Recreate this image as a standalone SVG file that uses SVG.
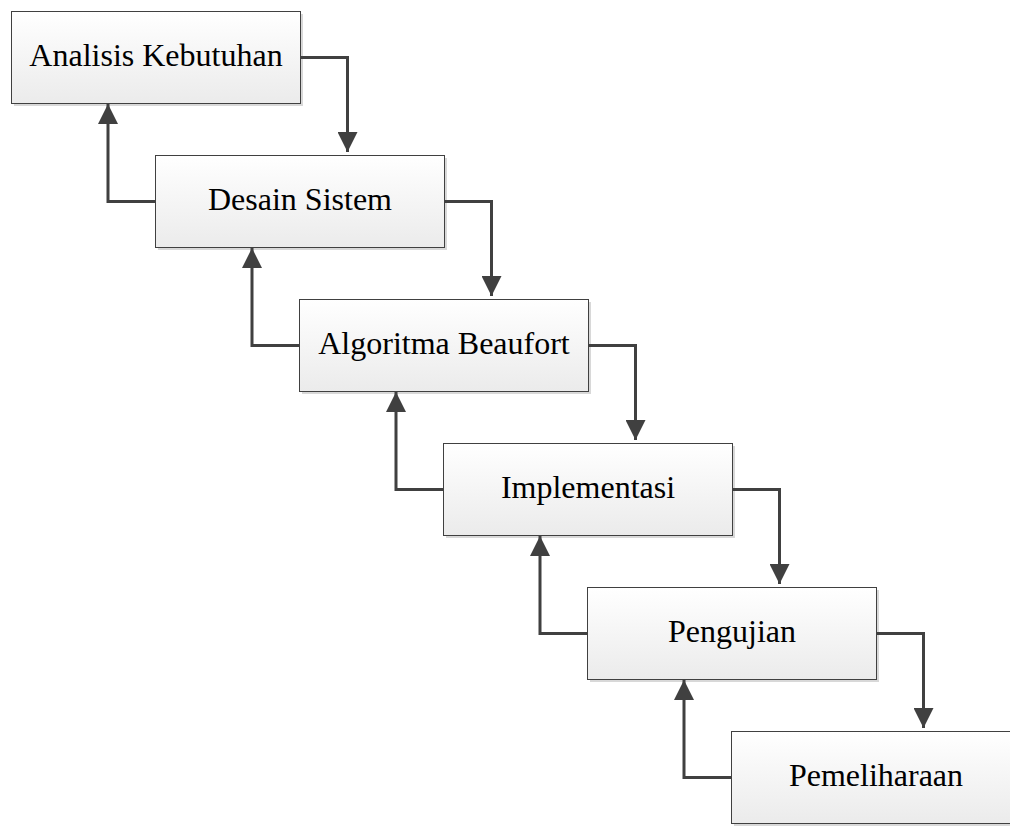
<svg xmlns="http://www.w3.org/2000/svg" width="1010" height="828" viewBox="0 0 1010 828">
<defs>
<linearGradient id="g" x1="0" y1="0" x2="0" y2="1">
<stop offset="0" stop-color="#ffffff"/>
<stop offset="1" stop-color="#ebebeb"/>
</linearGradient>
<marker id="ah" viewBox="0 0 20 20" refX="20" refY="10" markerWidth="20" markerHeight="20" markerUnits="userSpaceOnUse" orient="auto">
<path d="M0,0 L20,10 L0,20 Z" fill="#404040"/>
</marker>
</defs>
<style>
.shadow{fill:#d8d8d8}
.box{fill:url(#g);stroke:#404040;stroke-width:1}
.lbl{font-family:"Liberation Serif","Times New Roman",serif;font-size:32px;fill:#000;text-anchor:middle}
.conn{fill:none;stroke:#404040;stroke-width:3;marker-end:url(#ah)}
</style>
<rect width="1010" height="828" fill="#ffffff"/>
<g id="n1">
<rect class="shadow" x="14" y="14" width="289" height="92"/>
<rect class="box" x="11.5" y="11.5" width="289" height="92"/>
<text class="lbl" x="156" y="66">Analisis Kebutuhan</text>
</g>
<g id="n2">
<rect class="shadow" x="158" y="158" width="289" height="92"/>
<rect class="box" x="155.5" y="155.5" width="289" height="92"/>
<text class="lbl" x="300" y="210">Desain Sistem</text>
</g>
<g id="n3">
<rect class="shadow" x="302" y="302" width="289" height="92"/>
<rect class="box" x="299.5" y="299.5" width="289" height="92"/>
<text class="lbl" x="444" y="354">Algoritma Beaufort</text>
</g>
<g id="n4">
<rect class="shadow" x="446" y="446" width="289" height="92"/>
<rect class="box" x="443.5" y="443.5" width="289" height="92"/>
<text class="lbl" x="588" y="498">Implementasi</text>
</g>
<g id="n5">
<rect class="shadow" x="590" y="590" width="289" height="92"/>
<rect class="box" x="587.5" y="587.5" width="289" height="92"/>
<text class="lbl" x="732" y="642">Pengujian</text>
</g>
<g id="n6">
<rect class="shadow" x="734" y="734" width="289" height="92"/>
<rect class="box" x="731.5" y="731.5" width="289" height="92"/>
<text class="lbl" x="876" y="786">Pemeliharaan</text>
</g>
<g id="connectors">
<path class="conn" d="M301,57.5 H347.5 V152"/>
<path class="conn" d="M445,201.5 H491.5 V296"/>
<path class="conn" d="M589,345.5 H635.5 V440"/>
<path class="conn" d="M733,489.5 H779.5 V584"/>
<path class="conn" d="M877,633.5 H923.5 V728"/>
<path class="conn" d="M155,201.5 H108 V104"/>
<path class="conn" d="M299,345.5 H252 V248"/>
<path class="conn" d="M443,489.5 H396 V392"/>
<path class="conn" d="M587,633.5 H540 V536"/>
<path class="conn" d="M731,777.5 H684 V680"/>
</g>
</svg>
